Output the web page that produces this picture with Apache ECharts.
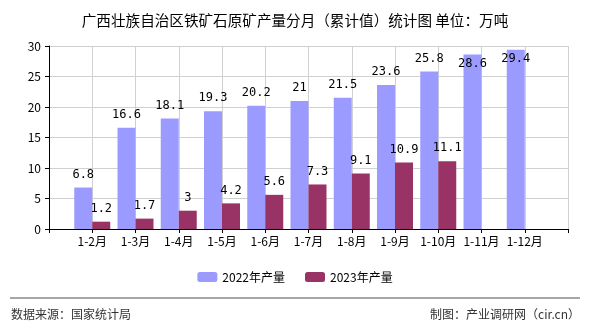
<!DOCTYPE html>
<html><head><meta charset="utf-8">
<script src="https://cdn.jsdelivr.net/npm/echarts@6/dist/echarts.min.js"></script>
<style>html,body{margin:0;padding:0;background:#fff}#c{width:590px;height:330px}</style>
</head><body><div id="c"></div>
<script>
var categories = ['', '1-2月', '1-3月', '1-4月', '1-5月', '1-6月', '1-7月', '1-8月', '1-9月', '1-10月', '1-11月', '1-12月', ''];
var values2022 = [null, 6.8, 16.6, 18.1, 19.3, 20.2, 21, 21.5, 23.6, 25.8, 28.6, 29.4, null];
var values2023 = [null, 1.2, 1.7, 3, 4.2, 5.6, 7.3, 9.1, 10.9, 11.1, null, null, null];
var yTicks = [0, 5, 10, 15, 20, 25, 30];

var FONT = '"Noto Sans CJK SC", sans-serif';
function mk(arr) {
  return arr.map(function (v) {
    if (v != null && v > 27) return { value: v, label: { position: 'insideTop', distance: 3 } };
    return v;
  });
}
var chart = echarts.init(document.getElementById('c'));
chart.setOption({
  animation: false,
  title: { text: '广西壮族自治区铁矿石原矿产量分月（累计值）统计图 单位：万吨', left: 'center', top: 8,
    textStyle: { fontSize: 14.6, fontWeight: 'normal', color: '#000', fontFamily: FONT } },
  legend: { bottom: 42, itemWidth: 20, itemHeight: 10, itemGap: 20,
    textStyle: { fontSize: 12, color: '#000', fontFamily: FONT }, data: ['2022年产量', '2023年产量'] },
  grid: { left: 49, right: 22, top: 46, bottom: 101 },
  xAxis: { type: 'category', data: categories, boundaryGap: false,
    axisLine: { lineStyle: { color: '#000' } },
    axisTick: { show: true, lineStyle: { color: '#000' }, length: 4 },
    axisLabel: { color: '#000', fontSize: 12, fontFamily: FONT, interval: 0, margin: 6 },
    splitLine: { show: true, lineStyle: { color: '#d0d0d0' } } },
  yAxis: { type: 'value', min: yTicks[0], max: yTicks[yTicks.length - 1], interval: 5,
    axisLine: { show: true, lineStyle: { color: '#000' } },
    axisTick: { show: true, lineStyle: { color: '#000' }, length: 4 },
    axisLabel: { color: '#000', fontSize: 12, fontFamily: FONT, margin: 8 },
    splitLine: { lineStyle: { color: '#d0d0d0' } } },
  series: [
    { name: '2022年产量', type: 'bar', data: mk(values2022), barWidth: 18, barGap: '0%',
      itemStyle: { color: '#9b9bff' },
      label: { show: true, position: 'top', color: '#000', fontSize: 12, fontFamily: '"DejaVu Sans Mono", monospace', distance: 7 } },
    { name: '2023年产量', type: 'bar', data: mk(values2023), barWidth: 18,
      itemStyle: { color: '#993366' },
      label: { show: true, position: 'top', color: '#000', fontSize: 12, fontFamily: '"DejaVu Sans Mono", monospace', distance: 7 } }
  ],
  graphic: [
    { type: 'line', shape: { x1: 10, y1: 298, x2: 580, y2: 298 }, style: { stroke: '#888', lineWidth: 1.5 } },
    { type: 'text', left: 11, top: 308, style: { text: '数据来源：国家统计局', fontSize: 12, fill: '#333', fontFamily: FONT } },
    { type: 'text', right: 10, top: 308, style: { text: '制图：产业调研网（cir.cn）', fontSize: 12, fill: '#333', fontFamily: FONT } }
  ]
});
</script></body></html>
